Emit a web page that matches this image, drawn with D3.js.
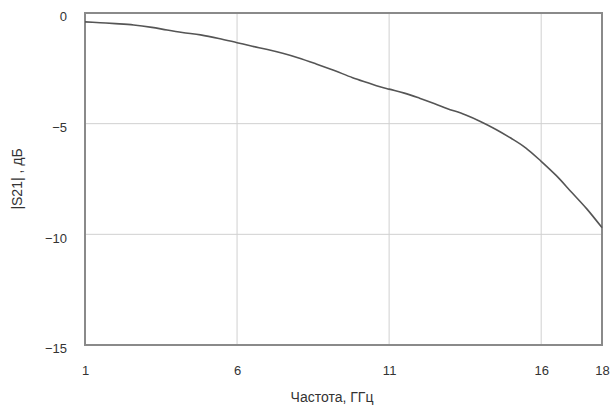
<!DOCTYPE html>
<html><head><meta charset="utf-8">
<script src="https://cdn.jsdelivr.net/npm/d3@7"></script>
<style>body{margin:0;background:#fff}svg{display:block}text{font-family:"Liberation Sans",Arial,sans-serif;fill:#333}</style>
</head><body><svg id="c" width="612" height="412"></svg>
<script>
const freq = [1.0,1.5,2.0,2.6,3.2,3.7,4.2,4.8,5.4,6.0,6.5,7.0,7.5,8.0,8.6,9.2,9.8,10.3,10.7,11.0,11.5,12.0,12.5,12.9,13.5,14.0,14.5,15.0,15.5,16.0,16.5,17.0,17.5,18.0];
const s21 = [-0.40,-0.44,-0.48,-0.54,-0.65,-0.77,-0.88,-0.99,-1.15,-1.34,-1.50,-1.65,-1.82,-2.02,-2.30,-2.60,-2.92,-3.15,-3.33,-3.44,-3.62,-3.85,-4.10,-4.31,-4.60,-4.90,-5.25,-5.65,-6.10,-6.70,-7.35,-8.10,-8.85,-9.70];
const xTicks = [1,6,11,16,18];
const yTicks = [0,-5,-10,-15];
const xTitle = "Частота, ГГц";
const yTitle = "|S21| , дБ";

const L=85, R=602, T=13, B=345;
const svg = d3.select("#c");
const x = d3.scaleLinear().domain([1,18]).range([L,R]);
const y = d3.scaleLinear().domain([-15,0]).range([B,T]);

// grid
svg.append("g").selectAll("line").data(xTicks.slice(1,-1)).join("line")
  .attr("x1",d=>x(d)).attr("x2",d=>x(d)).attr("y1",T).attr("y2",B)
  .attr("stroke","#d0d0d0").attr("stroke-width",1);
svg.append("g").selectAll("line").data(yTicks.slice(1,-1)).join("line")
  .attr("y1",d=>y(d)).attr("y2",d=>y(d)).attr("x1",L).attr("x2",R)
  .attr("stroke","#d0d0d0").attr("stroke-width",1);

// axes (labels only)
const xa = svg.append("g").attr("transform",`translate(0,${B})`)
  .call(d3.axisBottom(x).tickValues(xTicks).tickSize(0).tickPadding(21));
xa.select(".domain").remove();
xa.selectAll("text").style("font-size","13px").attr("fill","#333");
const ya = svg.append("g").attr("transform",`translate(${L},0)`)
  .call(d3.axisLeft(y).tickValues(yTicks).tickSize(0).tickPadding(18));
ya.select(".domain").remove();
ya.selectAll("text").style("font-size","13px").attr("fill","#333").attr("dy","0.6em");

// frame
svg.append("rect").attr("x",L).attr("y",T).attr("width",R-L).attr("height",B-T)
  .attr("fill","none").attr("stroke","#8a8a8a").attr("stroke-width",2);

// curve
svg.append("path").datum(freq.map((f,i)=>[f,s21[i]]))
  .attr("fill","none").attr("stroke","#555").attr("stroke-width",1.6)
  .attr("d",d3.line().x(d=>x(d[0])).y(d=>y(d[1])).curve(d3.curveMonotoneX));

// titles
svg.append("text").attr("x",332).attr("y",402).attr("text-anchor","middle")
  .style("font-size","14px").text(xTitle);
svg.append("text").attr("transform","translate(22,179) rotate(-90)").attr("text-anchor","middle")
  .style("font-size","14px").text(yTitle);
</script></body></html>
